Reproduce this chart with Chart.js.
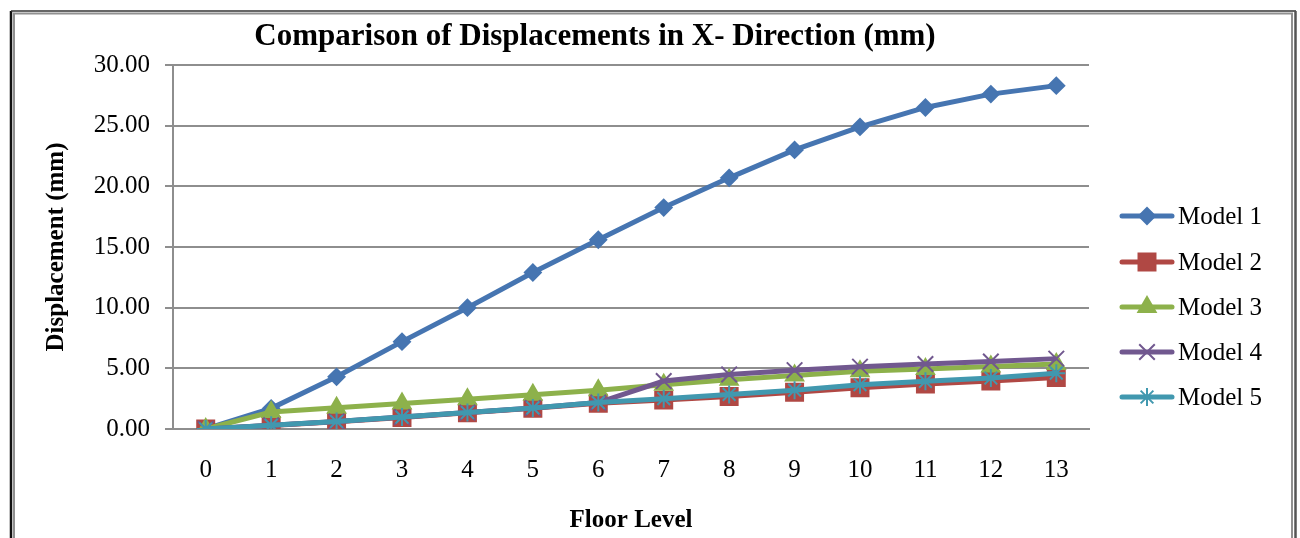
<!DOCTYPE html>
<html>
<head>
<meta charset="utf-8">
<title>Comparison of Displacements in X- Direction (mm)</title>
<script src="https://cdn.jsdelivr.net/npm/chart.js@4.4.1/dist/chart.umd.min.js"></script>
<style>
  html, body { margin: 0; padding: 0; background: #fff; overflow: hidden; }
  canvas { display: block; }
</style>
</head>
<body>
<canvas id="disp-chart" width="1300" height="538"></canvas>
<script>
// floor levels and displacement values (mm)
var floors = ['0', '1', '2', '3', '4', '5', '6', '7', '8', '9', '10', '11', '12', '13'];
var model1 = [0, 1.7, 4.3, 7.2, 10.0, 12.9, 15.6, 18.25, 20.7, 23.0, 24.9, 26.5, 27.6, 28.3];
var model2 = [0, 0.28, 0.6, 0.95, 1.33, 1.7, 2.12, 2.38, 2.68, 3.02, 3.4, 3.7, 3.95, 4.25];
var model3 = [0, 1.4, 1.75, 2.1, 2.46, 2.82, 3.2, 3.65, 4.05, 4.4, 4.75, 4.95, 5.15, 5.35];
var model4 = [0, 0.3, 0.62, 0.98, 1.36, 1.74, 2.18, 3.95, 4.5, 4.85, 5.14, 5.36, 5.56, 5.8];
var model5 = [0, 0.3, 0.62, 0.98, 1.36, 1.74, 2.18, 2.5, 2.85, 3.2, 3.65, 3.93, 4.2, 4.6];
var seriesNames = ['Model 1', 'Model 2', 'Model 3', 'Model 4', 'Model 5'];
var yTicks = [0, 5, 10, 15, 20, 25, 30];

var serif = '"Liberation Serif", "Times New Roman", serif';
var gridGray = '#8e8e8e';

function series(label, data, color, style, radius, order) {
    return {
        label: label,
        data: data,
        borderColor: color,
        backgroundColor: color,
        borderWidth: 5,
        pointStyle: style,
        pointRadius: radius,
        pointHoverRadius: radius,
        pointBorderWidth: 2,
        pointBorderColor: color,
        pointBackgroundColor: color,
        tension: 0,
        order: order
    };
}

// title, frame and Excel-like legend (line with marker through it)
var decorations = {
    id: 'decorations',
    beforeDraw: function (chart) {
        var ctx = chart.ctx;
        ctx.save();
        ctx.fillStyle = '#fff';
        ctx.fillRect(0, 0, chart.width, chart.height);
        ctx.restore();
    },
    afterDraw: function (chart) {
        var ctx = chart.ctx;
        ctx.save();
        // frame
        ctx.lineWidth = 2.5;
        ctx.strokeStyle = '#111';
        ctx.beginPath();
        ctx.moveTo(11, 600); ctx.lineTo(11, 11);
        ctx.stroke();
        ctx.lineWidth = 1.5;
        ctx.strokeStyle = '#333';
        ctx.beginPath();
        ctx.moveTo(11, 11); ctx.lineTo(1296, 11);
        ctx.stroke();
        ctx.lineWidth = 2;
        ctx.strokeStyle = '#909090';
        ctx.beginPath();
        ctx.moveTo(14, 600); ctx.lineTo(14, 13.5); ctx.lineTo(1292, 13.5); ctx.lineTo(1292, 600);
        ctx.stroke();
        ctx.lineWidth = 2.5;
        ctx.strokeStyle = '#555';
        ctx.beginPath();
        ctx.moveTo(1295.5, 11); ctx.lineTo(1295.5, 600);
        ctx.stroke();

        // title
        ctx.fillStyle = '#000';
        ctx.font = 'bold 31px ' + serif;
        ctx.textAlign = 'center';
        ctx.textBaseline = 'middle';
        ctx.fillText('Comparison of Displacements in X- Direction (mm)', 595, 37);

        // legend
        var rowY = [216, 262, 307, 352, 397];
        ctx.font = '25px ' + serif;
        ctx.textAlign = 'left';
        chart.data.datasets.forEach(function (ds, i) {
            var y = rowY[i];
            ctx.strokeStyle = ds.borderColor;
            ctx.lineWidth = 5;
            ctx.lineCap = 'round';
            ctx.beginPath();
            ctx.moveTo(1122, y); ctx.lineTo(1172, y);
            ctx.stroke();
            ctx.lineCap = 'butt';
            ctx.fillStyle = ds.pointBackgroundColor;
            ctx.strokeStyle = ds.pointBorderColor;
            ctx.lineWidth = ds.pointBorderWidth;
            Chart.helpers.drawPoint(ctx, {
                pointStyle: ds.pointStyle,
                radius: ds.pointRadius,
                rotation: 0,
                borderWidth: ds.pointBorderWidth
            }, 1147, y);
            ctx.fillStyle = '#000';
            ctx.fillText(seriesNames[i], 1178, y + 1);
        });
        ctx.restore();
    }
};

var ctx = document.getElementById('disp-chart').getContext('2d');
new Chart(ctx, {
    type: 'line',
    data: {
        labels: floors,
        datasets: [
            series(seriesNames[0], model1, '#4675b1', 'rectRot', 8, 5),
            series(seriesNames[1], model2, '#b04844', 'rect', 12, 4),
            series(seriesNames[2], model3, '#8db14b', 'triangle', 10, 3),
            series(seriesNames[3], model4, '#71588f', 'crossRot', 11, 2),
            series(seriesNames[4], model5, '#4198af', 'star', 9, 1)
        ]
    },
    options: {
        responsive: false,
        animation: false,
        devicePixelRatio: 1,
        layout: { padding: { left: 14, right: 211, top: 65, bottom: 0 } },
        plugins: {
            legend: { display: false },
            title: { display: false },
            tooltip: { enabled: false }
        },
        scales: {
            x: {
                offset: true,
                grid: { display: false, drawTicks: false },
                border: { display: true, color: gridGray, width: 2 },
                ticks: { color: '#000', font: { family: serif, size: 25 }, padding: 26, maxRotation: 0 },
                title: {
                    display: true,
                    text: 'Floor Level',
                    color: '#000',
                    font: { family: serif, size: 25, weight: 'bold' },
                    padding: { top: 0, bottom: 2 }
                },
                afterFit: function (scale) { scale.height = 109; }
            },
            y: {
                min: 0,
                max: 30,
                afterBuildTicks: function (scale) {
                    scale.ticks = yTicks.map(function (v) { return { value: v }; });
                },
                grid: { color: gridGray, lineWidth: 2, tickLength: 8, drawTicks: true },
                border: { display: true, color: gridGray, width: 2 },
                ticks: {
                    color: '#000',
                    font: { family: serif, size: 25 },
                    padding: 15,
                    callback: function (v) { return Number(v).toFixed(2); }
                },
                title: {
                    display: true,
                    text: 'Displacement (mm)',
                    color: '#000',
                    font: { family: serif, size: 25, weight: 'bold' },
                    padding: { top: 28, bottom: 0 }
                },
                afterFit: function (scale) { scale.width = 159; }
            }
        }
    },
    plugins: [decorations]
});
</script>
</body>
</html>
